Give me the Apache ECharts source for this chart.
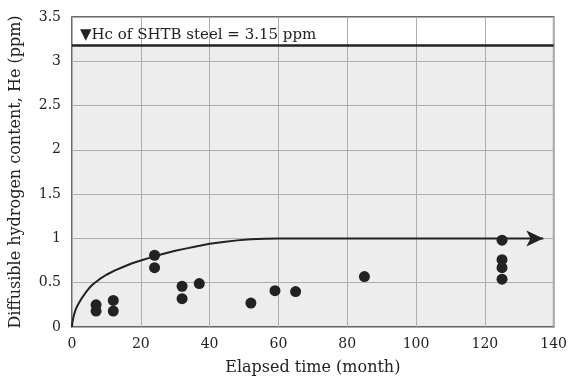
<!DOCTYPE html>
<html>
<head>
<meta charset="utf-8">
<script src="https://cdn.jsdelivr.net/npm/echarts@6/dist/echarts.min.js"></script>
<style>
  html, body { margin: 0; padding: 0; background: #fff; }
  #chart { width: 570px; height: 381px; }
</style>
</head>
<body>
<div id="chart"></div>
<script>
// measured points (elapsed month, He ppm)
const measuredX = [7, 7, 12, 12, 24, 24, 32, 32, 37, 52, 59, 65, 85, 125, 125, 125, 125];
const measuredY = [0.25, 0.18, 0.30, 0.18, 0.81, 0.67, 0.46, 0.32, 0.49, 0.27, 0.41, 0.40, 0.57, 0.98, 0.76, 0.67, 0.54];

// trend curve
const curveX = [0, 0.1, 0.3, 0.6, 1, 1.5, 2, 3, 4, 5, 6, 8, 10, 12.5, 15, 17.5, 20, 22.5, 25, 27.5, 30, 33, 36, 40, 44, 48, 52, 56, 60, 137];
const curveY = [0, 0.05, 0.09, 0.14, 0.19, 0.235, 0.27, 0.335, 0.39, 0.44, 0.48, 0.54, 0.59, 0.64, 0.68, 0.72, 0.75, 0.78, 0.81, 0.835, 0.86, 0.885, 0.91, 0.94, 0.96, 0.978, 0.99, 0.997, 1.0, 1.0];

const hcLimit = 3.18;
const hcLabel = '\u25BCHc of SHTB steel = 3.15 ppm';

const font = 'DejaVu Serif';

const chart = echarts.init(document.getElementById('chart'));

const curveData = curveX.map((x, i) => {
  const p = { value: [x, curveY[i]] };
  if (i === curveX.length - 1) {
    p.symbol = 'arrow';
    p.symbolSize = [12, 17];
    p.symbolRotate = -90;
  }
  return p;
});

chart.setOption({
  animation: false,
  grid: {
    left: 70, right: 14, top: 17, bottom: 54,
    show: true,
    backgroundColor: 'transparent',
    borderColor: '#3a3a3a',
    borderWidth: 1.5,
  },
  xAxis: {
    type: 'value',
    min: 0, max: 140, interval: 20,
    name: 'Elapsed time (month)',
    nameLocation: 'middle',
    nameGap: 33,
    nameTextStyle: { fontFamily: font, fontSize: 16, color: '#222' },
    axisLine: { show: false },
    axisTick: { show: false },
    axisLabel: { fontFamily: font, fontSize: 14, color: '#222', margin: 10 },
    splitLine: { lineStyle: { color: '#adadad', width: 1 } },
  },
  yAxis: {
    type: 'value',
    min: 0, max: 3.5, interval: 0.5,
    name: 'Diffusible hydrogen content, He (ppm)',
    nameLocation: 'middle',
    nameGap: 48,
    nameTextStyle: { fontFamily: font, fontSize: 16, color: '#222' },
    axisLine: { show: false },
    axisTick: { show: false },
    axisLabel: { fontFamily: font, fontSize: 14, color: '#222', margin: 11 },
    splitLine: { lineStyle: { color: '#adadad', width: 1 } },
  },
  series: [
    {
      // shaded background below the Hc line
      type: 'line',
      data: [],
      z: -1,
      silent: true,
      markArea: {
        silent: true,
        z: -1,
        itemStyle: { color: '#ededed' },
        data: [[{ yAxis: 0 }, { yAxis: hcLimit }]],
      },
    },
    {
      type: 'line',
      data: curveData,
      symbol: 'none',
      smooth: false,
      lineStyle: { color: '#222', width: 2, join: 'round' },
      itemStyle: { color: '#222' },
      z: 3,
      markLine: {
        silent: true,
        symbol: 'none',
        lineStyle: { color: '#222', width: 2.5, type: 'solid' },
        label: {
          position: 'insideStartTop',
          formatter: hcLabel,
          fontFamily: font,
          fontSize: 15,
          color: '#222',
          distance: [8, 3],
        },
        data: [{ yAxis: hcLimit }],
      },
    },
    {
      type: 'scatter',
      data: measuredX.map((x, i) => [x, measuredY[i]]),
      symbolSize: 11,
      itemStyle: { color: '#222', opacity: 1 },
      z: 4,
    },
  ],
});
</script>
</body>
</html>
